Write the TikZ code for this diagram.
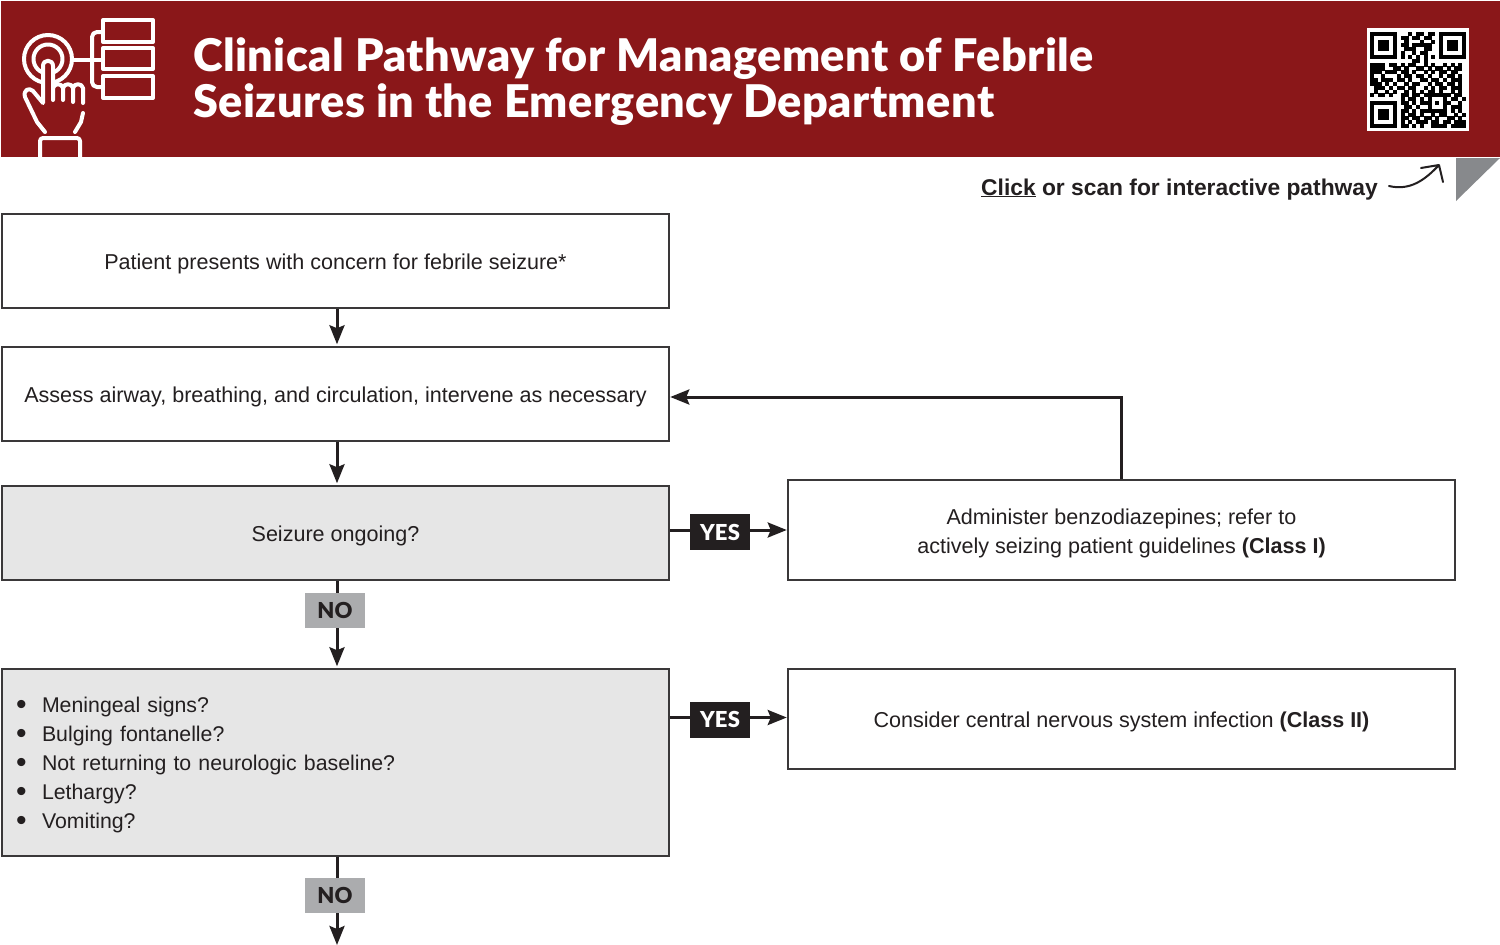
\documentclass[tikz,border=0pt]{standalone}
\usepackage{fontspec}
\setmainfont{Liberation Sans}
\newfontfamily\titlefont{Lato Black}[LetterSpace=1.0]
\usetikzlibrary{arrows.meta,calc}
\definecolor{banner}{HTML}{8A1719}
\definecolor{ink}{HTML}{231F20}
\definecolor{boxline}{HTML}{3A3839}
\definecolor{qgray}{HTML}{E6E6E6}
\definecolor{nogray}{HTML}{ABACAE}
\definecolor{corner}{HTML}{87898C}
\newcount\qx
\newcount\qy
\def\qrscan#1{\ifx#1;\else\if#11\fill[black] ({1370+3.84*\the\qx-0.1},{32+3.84*\the\qy-0.1}) rectangle +(4.04,4.04);\fi\advance\qx by 1 \expandafter\qrscan\fi}
\newcommand\dropline[1]{\raisebox{-3pt}[\height][\depth]{#1}}
\newcommand\bulletline[1]{\raisebox{-2pt}[\height][\depth]{\hspace*{14pt}\makebox[26pt][l]{\raisebox{-2pt}{\scalebox{1.4}{•}}}\fontsize{21.3}{29}\selectfont #1}}
\tikzset{
  flowbox/.style={draw=boxline,line width=1.5pt,fill=white,minimum width=667pt,inner sep=0pt,align=center,text=ink,
    font=\fontsize{21.55}{29}\selectfont},
  querybox/.style={flowbox,fill=qgray},
  yeslabel/.style={fill=ink,text=white,minimum width=60pt,minimum height=36pt,inner sep=0pt,font=\titlefont\fontsize{22}{22}\selectfont},
  nolabel/.style={fill=nogray,text=ink,minimum width=60pt,minimum height=35pt,inner sep=0pt,font=\titlefont\fontsize{22}{22}\selectfont},
  link/.style={draw=ink,line width=3pt},
  arrowlink/.style={link,-{Stealth[length=19pt,width=15pt,inset=3pt]},shorten >=0.5pt},
  downlink/.style={arrowlink,shorten >=2pt},
  iconline/.style={draw=white,line width=4pt,line join=round,line cap=round},
  iconmask/.style={draw=banner,line width=10pt,line cap=round},
  titletext/.style={anchor=base west,inner sep=0pt,text=white,font=\titlefont\fontsize{45}{46}\selectfont}
}
\begin{document}
\begin{tikzpicture}[x=1pt,y=-1pt]
\useasboundingbox (0,0) rectangle (1500,945);
\fill[white] (0,0) rectangle (1500,945);
% banner
\fill[banner] (1,1) rectangle (1500,157);
\fill[corner] (1456,158) -- (1500,158) -- (1456,201) -- cycle;
% icon
\draw[iconline] (48,59) circle (24);
\draw[iconline] (48,59) circle (14.5);
\draw[iconmask] (48,66) -- (48,100);
\draw[iconline] (103,20) rectangle (153,42);
\draw[iconline] (103,48) rectangle (153,69);
\draw[iconline] (103,76) rectangle (153,98);
\draw[iconline] (73,60) -- (103,60);
\draw[iconline,rounded corners=5pt] (103,32) -- (92,32) -- (92,87) -- (103,87);
\draw[iconline] (45,132) -- (37,122) -- (25,97) .. controls (23,90) and (29,87) .. (33,91) -- (43,103) -- (43,66) .. controls (43,59) and (53,59) .. (53,66) -- (53,100);
\draw[iconline] (53,88) .. controls (54,83) and (62,83) .. (63,88) -- (63,100);
\draw[iconline] (63,88) .. controls (64,83) and (72,83) .. (73,88) -- (73,102);
\draw[iconline] (73,88) .. controls (74,83) and (82,83) .. (83,88) -- (83,103);
\draw[iconline] (83,113) -- (81,122) -- (75,132);
\draw[iconline,rounded corners=3pt] (40,157) -- (40,138) -- (80,138) -- (80,157);
% title
\node[titletext] (title1) at (193,71) {Clinical Pathway for Management of Febrile};
\node[titletext] (title2) at (193,117) {Seizures in the Emergency Department};
% QR
\fill[white] (1367,28) rectangle (1469,131);
\qy=0
\foreach \rowbits in {
1111111 0 001011011 0 1111111,
1000001 0 110110110 0 1000001,
1011101 0 010001001 0 1011101,
1011101 0 110111110 0 1011101,
1011101 0 011100110 0 1011101,
1000001 0 100101100 0 1000001,
1111111 0 101010101 0 1111111,
0000000 0 000110100 0 0000000,
11110 11010 11001 01001 01010,
11110 01101 00110 10110 10110,
11101 11011 01001 01011 01100,
10010 00101 10110 10010 11010,
11011 10110 10011 01101 01110,
11101 01001 01100 10110 11010,
01110 10110 11001 01011 01110,
01001 01001 01010 11010 01010,
10110 10011 01101 11111 10110,
00000 00010 11010 10001 01101,
11111 11011 01011 10101 10010,
10000 01001 10100 10001 01110,
10111 01011 01011 11111 01010,
10111 01010 11010 01011 00101,
10111 01011 01101 10100 11010,
10000 01010 10111 01101 10111,
11111 11011 01010 01111 01111}{
  \global\qx=0
  \expandafter\qrscan\rowbits;
  \global\advance\qy by 1
}
% click line
\node[anchor=base east,inner sep=0pt,text=ink,font=\bfseries\fontsize{22.8}{23}\selectfont] (click) at (1378,195) {\underline{Click} or scan for interactive pathway};
\coordinate (curlstart) at (1389,186);
\coordinate (curlend) at (1439,165);
\draw[ink,line width=2pt,line cap=round,line join=round] (curlstart) .. controls (1410,191) and (1425,180) .. (curlend) (1421,168) -- (curlend) -- (1443,182);
% boxes
\node[flowbox,minimum height=94pt] (present) at (335.5,261) {\dropline{Patient presents with concern for febrile seizure*}};
\node[flowbox,minimum height=94pt] (assess) at (335.5,394) {\dropline{Assess airway, breathing, and circulation, intervene as necessary}};
\node[querybox,minimum height=94pt] (ongoing) at (335.5,533) {\dropline{Seizure ongoing?}};
\node[querybox,minimum height=187pt,text width=667pt,align=left] (signs) at (335.5,762.5) {%
\bulletline{Meningeal signs?}\\
\bulletline{Bulging fontanelle?}\\
\bulletline{Not returning to neurologic baseline?}\\
\bulletline{Lethargy?}\\
\bulletline{Vomiting?}};
\node[flowbox,minimum height=100pt] (benzo) at (1121.5,530) {\dropline{Administer benzodiazepines; refer to}\\\dropline{actively seizing patient guidelines \textbf{(Class I)}}};
\node[flowbox,minimum height=100pt] (cns) at (1121.5,719) {\dropline{Consider central nervous system infection \textbf{(Class II)}}};
% labels
\node[yeslabel] (yes1) at (720,532) {YES};
\node[yeslabel] (yes2) at (720,719.5) {YES};
\node[nolabel] (no1) at (335,610.5) {NO};
\node[nolabel] (no2) at (335,895.5) {NO};
\coordinate (out) at (337,945);
% connectors
\draw[downlink] ([xshift=1.5pt]present.south) -- ([xshift=1.5pt]assess.north);
\draw[downlink] ([xshift=1.5pt]assess.south) -- ([xshift=1.5pt]ongoing.north);
\draw[link] ([xshift=1.5pt]ongoing.south) -- ([xshift=2pt]no1.north);
\draw[downlink] ([xshift=2pt]no1.south) -- ([xshift=1.5pt]signs.north);
\draw[link] ([xshift=1.5pt]signs.south) -- ([xshift=2pt]no2.north);
\draw[arrowlink,shorten >=0pt] ([xshift=2pt]no2.south) -- (out);
\draw[link] (ongoing.east |- yes1.west) ++(0,-2) -- ([yshift=2pt]yes1.west);
\draw[arrowlink] ([yshift=2pt]yes1.east) -- ([yshift=2pt]yes1.east -| benzo.west);
\draw[link] (signs.east |- yes2.west) ++(0,-2) -- ([yshift=2pt]yes2.west);
\draw[arrowlink] ([yshift=2pt]yes2.east) -- ([yshift=2pt]yes2.east -| cns.west);
\coordinate (backturn) at (benzo.north |- 0,397);
\draw[arrowlink] (benzo.north) -- (backturn) -- (backturn -| assess.east);
\end{tikzpicture}
\end{document}
